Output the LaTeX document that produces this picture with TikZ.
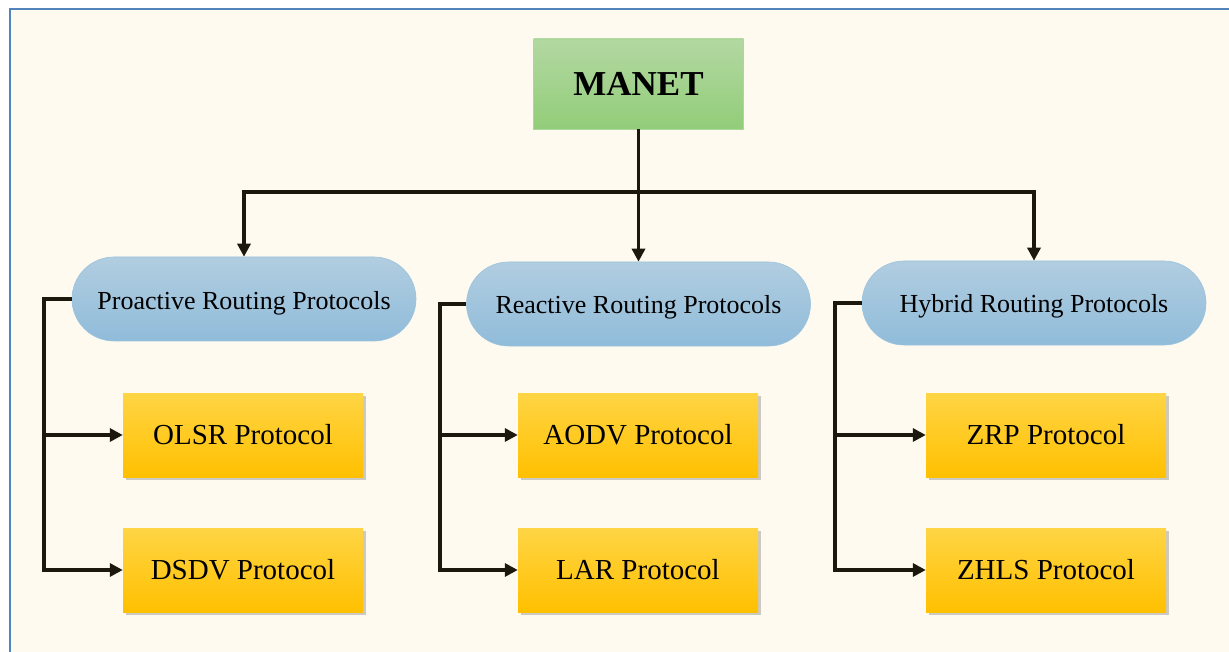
\documentclass[tikz,border=0pt]{standalone}
\usepackage{fontspec}
\setmainfont{Liberation Serif}
\usetikzlibrary{arrows.meta,shadows}
\definecolor{bgcream}{HTML}{FEFAEF}
\definecolor{framebl}{HTML}{5383BC}
\definecolor{gtop}{HTML}{B3D8A2}
\definecolor{gbot}{HTML}{92CD79}
\definecolor{btop}{HTML}{B1CDE0}
\definecolor{bbot}{HTML}{90BCDA}
\definecolor{ytop}{HTML}{FFD545}
\definecolor{ybot}{HTML}{FFC000}
\definecolor{linec}{HTML}{1C180E}
\tikzset{
  rootbox/.style={rectangle, minimum width=210pt, minimum height=90pt, top color=gtop, bottom color=gbot, draw=gtop!80!gbot, line width=0.6pt, font=\fontsize{35}{40}\selectfont\bfseries, inner sep=0pt},
  pillbox/.style={rectangle, rounded corners=42pt, minimum width=344pt, minimum height=84pt, top color=btop, bottom color=bbot, draw=bbot!90!white, line width=0.6pt, font=\fontsize{26}{30}\selectfont, inner sep=0pt, text depth=0pt, text height=20pt},
  protobox/.style={rectangle, minimum width=240pt, minimum height=84pt, top color=ytop, bottom color=ybot, font=\fontsize{29}{33}\selectfont, inner sep=0pt, drop shadow={shadow xshift=2.5pt, shadow yshift=-2.5pt, opacity=0.4}},
  conn/.style={draw=linec, line width=3.8pt},
  arr/.style={conn, -{Triangle[length=13pt,width=13pt]}},
}
\begin{document}
\begin{tikzpicture}[x=1pt,y=-1pt]
\useasboundingbox (0,0) rectangle (1229,652);
\fill[white] (0,0) rectangle (1229,652);
\fill[bgcream] (10,9) rectangle (1229,652);
\draw[framebl, line width=2.5pt] (10,652) -- (10,9) -- (1229,9);

\node[rootbox] (manet) at (638.5,84) {MANET};

\node[pillbox] (pro) at (244,299) {Proactive Routing Protocols};
\node[pillbox] (rea) at (638.5,304) {Reactive Routing Protocols};
\node[pillbox] (hyb) at (1034,303) {Hybrid Routing Protocols};

\node[protobox] (olsr) at (243,435) {OLSR Protocol};
\node[protobox] (dsdv) at (243,570) {DSDV Protocol};
\node[protobox] (aodv) at (638,435) {AODV Protocol};
\node[protobox] (lar)  at (638,570) {LAR Protocol};
\node[protobox] (zrp)  at (1046,435) {ZRP Protocol};
\node[protobox] (zhls) at (1046,570) {ZHLS Protocol};

\coordinate (j) at (638.5,192);
\draw[arr] (manet.south) -- (rea.north);
\draw[arr] (j) -| (pro.north);
\draw[arr] (j) -| (hyb.north);

\coordinate (pb) at (44,570);
\coordinate (rb) at (440,570);
\coordinate (hb) at (835,570);
\draw[arr] (pro.west) -| (pb) -- (dsdv.west);
\draw[arr] (olsr.west -| pb) -- (olsr.west);
\draw[arr] (rea.west) -| (rb) -- (lar.west);
\draw[arr] (aodv.west -| rb) -- (aodv.west);
\draw[arr] (hyb.west) -| (hb) -- (zhls.west);
\draw[arr] (zrp.west -| hb) -- (zrp.west);
\end{tikzpicture}
\end{document}
